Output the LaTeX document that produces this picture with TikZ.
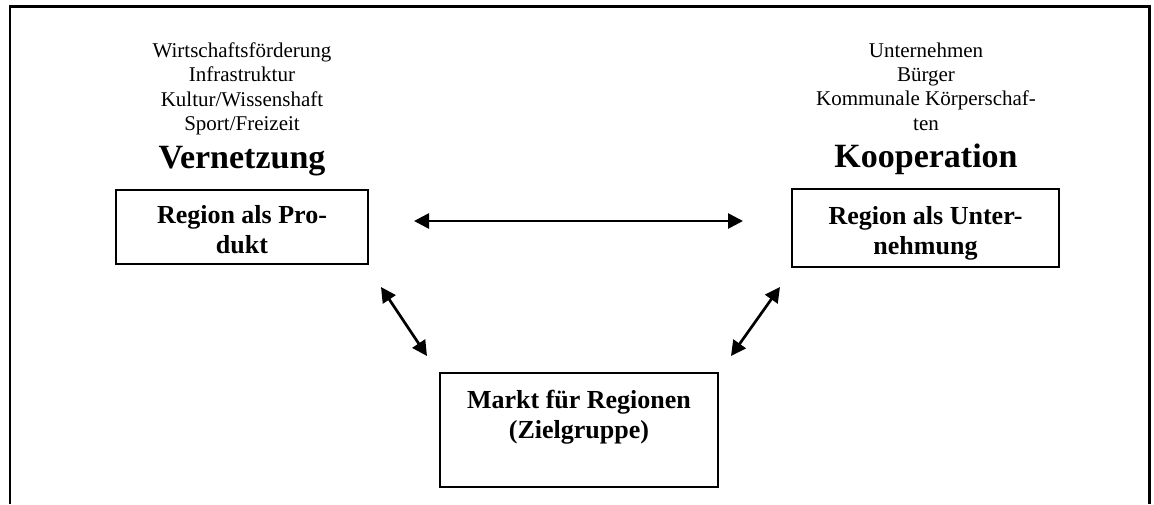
\documentclass[tikz,border=0pt]{standalone}
\usepackage{fontspec}
\setmainfont{Liberation Serif}
\usetikzlibrary{arrows.meta}
\begin{document}
\begin{tikzpicture}[x=1pt,y=-1pt,
  every node/.style={inner sep=0pt, outer sep=0pt},
  listtext/.style={align=center, anchor=north, font=\fontsize{21}{24.4}\selectfont},
  heading/.style={anchor=base, font=\fontsize{34}{39}\selectfont\bfseries},
  panel/.style={draw, line width=1.9pt, font=\fontsize{26}{30}\selectfont\bfseries},
  link/.style={line width=2.7pt,
    {Triangle[length=15pt,width=15pt]}-{Triangle[length=15pt,width=15pt]}},
  frame/.style={line width=2.4pt},
]
\useasboundingbox (0,0) rectangle (1154,504);

% open outer frame
\draw[frame] (10,504) -- (10,6.5) -- (1149.5,6.5) -- (1149.5,504);

% left column
\node[listtext] (aufgaben) at (242,42.5)
  {Wirtschaftsförderung\\Infrastruktur\\Kultur/Wissenshaft\\Sport/Freizeit};
\node[heading] (vern) at (242,168) {Vernetzung};
\node[panel] (prod) at (242,227)
  {\parbox[c][74pt][t]{252pt}{\centering\vspace*{15pt}Region als Pro-\\dukt}};

% right column
\node[listtext] (akteure) at (926,42.5)
  {Unternehmen\\Bürger\\Kommunale Körperschaf-\\ten};
\node[heading] (koop) at (926,167) {Kooperation};
\node[panel] (unt) at (925.5,228)
  {\parbox[c][78pt][t]{267pt}{\centering\vspace*{17pt}Region als Unter-\\nehmung}};

% bottom
\node[panel] (markt) at (579,430)
  {\parbox[c][114pt][t]{278pt}{\centering\vspace*{17pt}Markt für Regionen\\(Zielgruppe)}};

% connectors
\draw[link] ([xshift=46pt,yshift=6pt]prod.east) -- ([xshift=-49pt,yshift=7pt]unt.west);
\draw[link] ([xshift=139pt,yshift=-23pt]prod.south) -- ([xshift=-13pt,yshift=17pt]markt.north west);
\draw[link] ([xshift=-12pt,yshift=-20pt]unt.south west) -- ([xshift=13pt,yshift=17pt]markt.north east);
\end{tikzpicture}
\end{document}
